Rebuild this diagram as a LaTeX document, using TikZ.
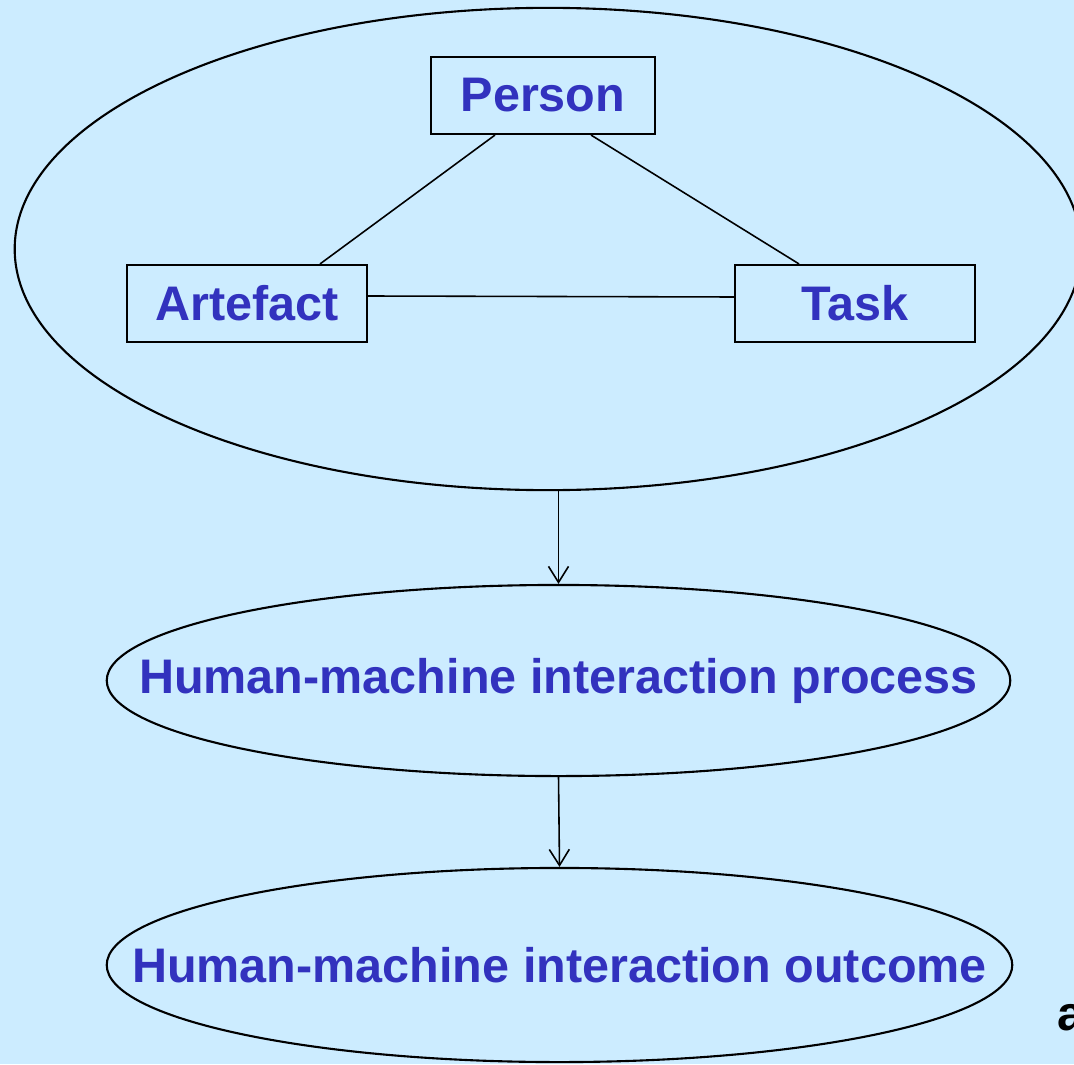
\documentclass[tikz,border=0pt]{standalone}
\usepackage{fontspec}
\setmainfont{Liberation Sans}
\usetikzlibrary{shapes.geometric,arrows.meta}

\definecolor{skyback}{RGB}{204,236,255}
\definecolor{labelblue}{RGB}{50,50,190}

\tikzset{
  label text/.style={text=labelblue, font=\fontsize{13.8}{16}\selectfont\bfseries},
  box/.style={draw, line width=0.6pt, rectangle, minimum height=0.77cm, label text},
  oval/.style={draw, line width=0.6pt, ellipse, inner sep=0pt, label text},
  link/.style={line width=0.45pt},
}

\begin{document}
\begin{tikzpicture}[x=0.01cm, y=-0.01cm, >={Straight Barb[length=1.6mm,width=2mm]}]

    % Sfondo
    \fill[skyback] (0,0) rectangle (1074,1064);
    \useasboundingbox (0,0) rectangle (1074,1064);

    % Contesto
    \node[oval, minimum width=10.66cm, minimum height=4.82cm] (context) at (548,249) {};
    \node[box, minimum width=2.24cm] (person) at (543,95.5) {Person};
    \node[box, minimum width=2.40cm] (artefact) at (247,303.5) {Artefact};
    \node[box, minimum width=2.40cm] (task) at (855,303.5) {Task};

    \draw[link] ([xshift=-4.8mm]person.south) -- ([xshift=7.3mm]artefact.north);
    \draw[link] ([xshift=4.8mm]person.south) -- ([xshift=-5.6mm]task.north);
    \draw[link] ([yshift=0.75mm]artefact.east) -- ([yshift=0.65mm]task.west);

    % Processo ed esito
    \node[oval, minimum width=9.03cm, minimum height=1.91cm] (process) at (558.5,680.5)
        {\makebox[0pt]{Human-machine interaction process}};
    \node[oval, minimum width=9.05cm, minimum height=1.94cm] (outcome) at (559.5,965)
        {\makebox[0pt]{Human-machine interaction outcome}};

    \draw[link, ->] (context.south -| process.north) -- (process.north);
    \draw[link, ->] (process.south) -- (outcome.north);

    \node[anchor=base west, inner sep=0pt, font=\fontsize{13.8}{16}\selectfont\bfseries] (cut) at (1057,1030) {a};

\end{tikzpicture}
\end{document}
